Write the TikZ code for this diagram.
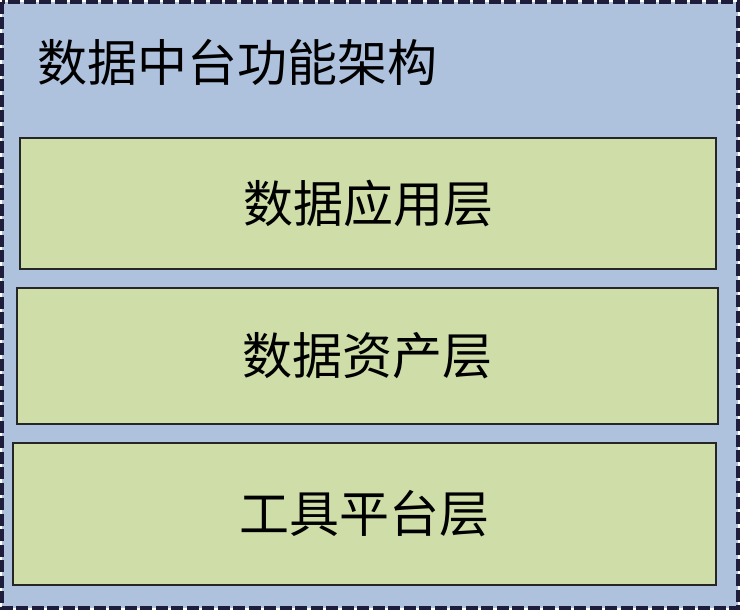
\documentclass[tikz,border=0pt]{standalone}
\usepackage{fontspec}
\newfontfamily\cjk{Noto Sans CJK SC}
\usetikzlibrary{positioning}
\definecolor{frameblue}{RGB}{174,193,221}
\definecolor{layergreen}{RGB}{207,221,168}
\definecolor{framenavy}{RGB}{30,30,60}
\tikzstyle{layer} = [draw=black!85, line width=2pt, fill=layergreen, rectangle, font=\cjk\fontsize{50}{56}\selectfont]

\begin{document}
\begin{tikzpicture}[x=1pt,y=-1pt]
  \useasboundingbox (0,0) rectangle (740,610);
  \draw[fill=frameblue, draw=framenavy, line width=3.4pt, dash pattern=on 12pt off 3.5pt] (2,2) rectangle (738,608);
  \node[anchor=west, inner sep=0, font=\cjk\fontsize{50}{56}\selectfont] (title) at (37,62) {数据中台功能架构};

  \node[layer, minimum width=696pt, minimum height=131pt] (app) at (368,203.5) {\raisebox{5pt}{数据应用层}};
  \node[layer, minimum width=701pt, minimum height=136pt] (asset) at (367.5,356) {\raisebox{4pt}{数据资产层}};
  \node[layer, minimum width=703pt, minimum height=142pt] (tool) at (364.5,514) {\raisebox{4pt}{工具平台层}};
\end{tikzpicture}
\end{document}
